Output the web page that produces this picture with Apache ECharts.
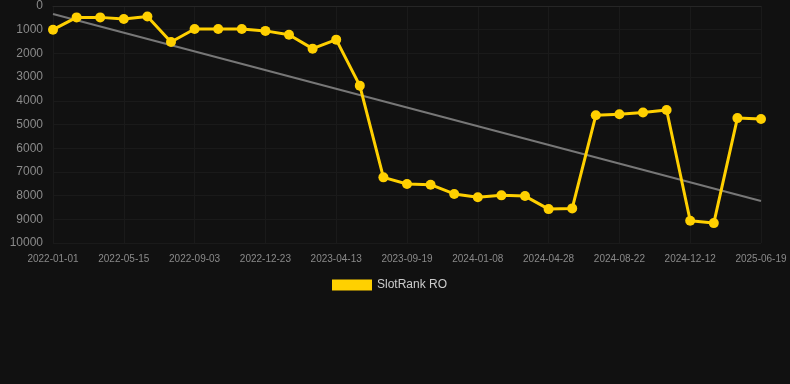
<!DOCTYPE html>
<html>
<head>
<meta charset="utf-8">
<script src="https://cdn.jsdelivr.net/npm/echarts@6/dist/echarts.min.js"></script>
<style>
  html, body { margin: 0; padding: 0; background: #111111; }
  #main { width: 790px; height: 384px; }
</style>
</head>
<body>
<div id="main"></div>
<script>
// dates of the rank snapshots
var dates = [
    '2022-01-01', '2022-02-15', '2022-03-31', '2022-05-15', '2022-06-21', '2022-07-28',
    '2022-09-03', '2022-10-10', '2022-11-16', '2022-12-23', '2023-01-29', '2023-03-07',
    '2023-04-13', '2023-06-05', '2023-07-28', '2023-09-19', '2023-10-26', '2023-12-02',
    '2024-01-08', '2024-02-14', '2024-03-22', '2024-04-28', '2024-06-05', '2024-07-14',
    '2024-08-22', '2024-09-28', '2024-11-04', '2024-12-12', '2025-02-09', '2025-04-15',
    '2025-06-19'
];

// SlotRank RO positions
var rankRO = [
    1000, 480, 480, 550, 440, 1520,
    970, 970, 970, 1050, 1210, 1800,
    1420, 3360, 7230, 7510, 7540, 7930,
    8070, 7990, 8020, 8570, 8540, 4610,
    4570, 4490, 4390, 9060, 9160, 4730,
    4770
];

// trend line end points (start, end)
var trendStart = 340;
var trendEnd = 8230;

var yTicks = { min: 0, max: 10000, interval: 1000 };

function renderRankChart() {
    var dom = document.getElementById('main');
    var myChart = echarts.init(dom);
    var option;

    var trendData = dates.map(function (d, i) {
        if (i === 0) return trendStart;
        if (i === dates.length - 1) return trendEnd;
        return null;
    });

    option = {
        backgroundColor: '#111111',
        animation: false,
        grid: {
            top: 6,
            bottom: 141,
            left: 53,
            right: 29
        },
        legend: {
            data: ['SlotRank RO'],
            top: 274,
            left: 327,
            itemWidth: 40,
            itemHeight: 11,
            textStyle: {
                color: '#cccccc',
                fontSize: 12
            },
            icon: 'rect'
        },
        xAxis: [{
            type: 'category',
            boundaryGap: false,
            data: dates,
            axisLine: {
                show: true,
                lineStyle: { color: '#262626' }
            },
            axisTick: { show: false },
            axisLabel: {
                interval: 2,
                color: '#8a8a8a',
                fontSize: 10,
                margin: 11
            },
            splitLine: {
                show: true,
                interval: 2,
                lineStyle: { color: '#1a1a1a' }
            }
        }],
        yAxis: [{
            type: 'value',
            inverse: true,
            min: yTicks.min,
            max: yTicks.max,
            interval: yTicks.interval,
            axisLine: { show: false },
            axisTick: { show: false },
            axisLabel: {
                color: '#8a8a8a',
                fontSize: 12,
                margin: 10,
                formatter: function (v) { return String(v); }
            },
            splitLine: {
                show: true,
                lineStyle: { color: '#1a1a1a' }
            }
        }],
        series: [{
                name: 'trend',
                type: 'line',
                data: trendData,
                connectNulls: true,
                showSymbol: false,
                silent: true,
                lineStyle: {
                    color: '#777777',
                    width: 2
                },
                z: 1
            },
            {
                name: 'SlotRank RO',
                type: 'line',
                data: rankRO,
                symbol: 'circle',
                symbolSize: 10,
                itemStyle: { color: '#ffd000' },
                lineStyle: {
                    color: '#ffd000',
                    width: 3
                },
                z: 3
            }
        ]
    };

    if (option && typeof option === 'object') {
        myChart.setOption(option);
    }
}
renderRankChart();
</script>
</body>
</html>
